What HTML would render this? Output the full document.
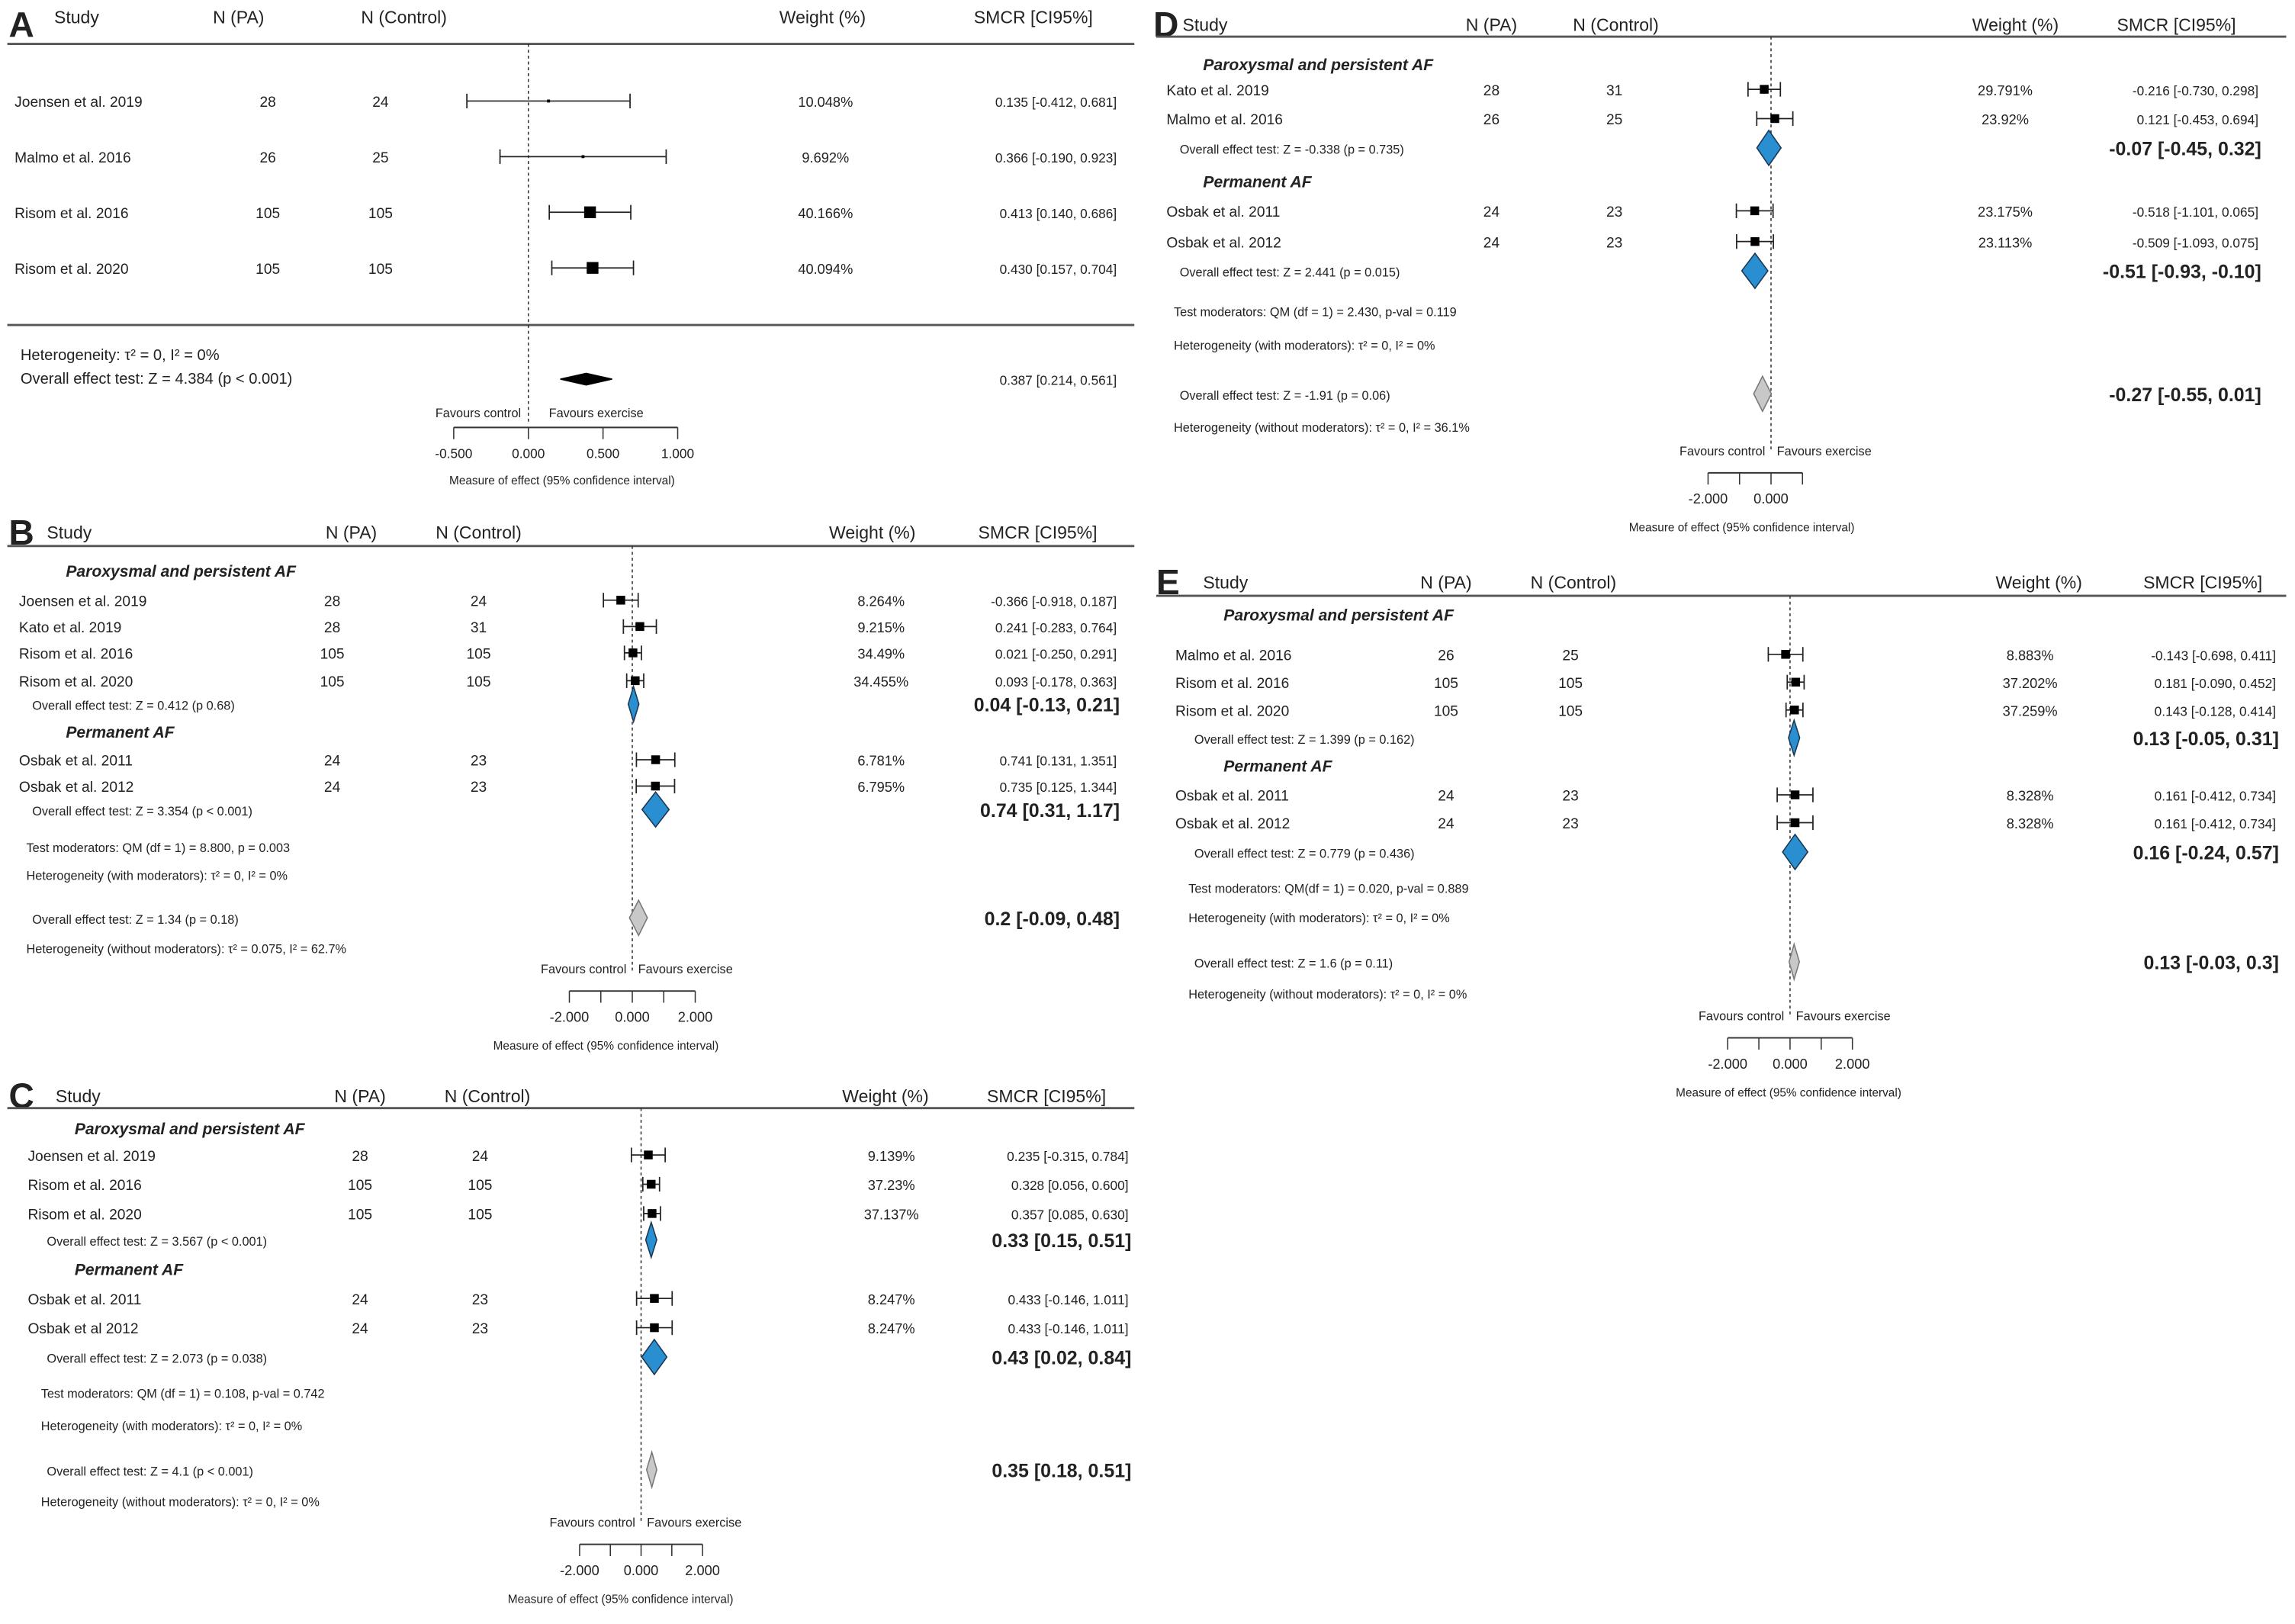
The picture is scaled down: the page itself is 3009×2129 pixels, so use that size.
<!DOCTYPE html>
<html><head><meta charset="utf-8">
<style>
html,body{margin:0;padding:0;background:#fff;}
svg{display:block;}
text{font-family:"Liberation Sans Narrow","Liberation Sans",sans-serif;fill:#222;}
</style></head>
<body>
<svg id="fig" xmlns="http://www.w3.org/2000/svg" width="3009" height="2129" viewBox="0 0 1568 1109.4"></svg>
<script>
// ---------- DATA ----------
// Panel A
const A_names=["Joensen et al. 2019","Malmo et al. 2016","Risom et al. 2016","Risom et al. 2020"];
const A_npa=[28,26,105,105];
const A_nctl=[24,25,105,105];
const A_wt=[10.048,9.692,40.166,40.094];
const A_est=[0.135,0.366,0.413,0.430];
const A_lo=[-0.412,-0.190,0.140,0.157];
const A_hi=[0.681,0.923,0.686,0.704];
const A_all=[0.387,0.214,0.561];
const A_ticks=[-0.5,0,0.5,1.0];
// Panel B
const B_names=["Joensen et al. 2019","Kato et al. 2019","Risom et al. 2016","Risom et al. 2020","Osbak et al. 2011","Osbak et al. 2012"];
const B_npa=[28,28,105,105,24,24];
const B_nctl=[24,31,105,105,23,23];
const B_wt=["8.264%","9.215%","34.49%","34.455%","6.781%","6.795%"];
const B_est=[-0.366,0.241,0.021,0.093,0.741,0.735];
const B_lo=[-0.918,-0.283,-0.250,-0.178,0.131,0.125];
const B_hi=[0.187,0.764,0.291,0.363,1.351,1.344];
const B_subEst=[0.04,0.74], B_subLo=[-0.13,0.31], B_subHi=[0.21,1.17];
const B_all=[0.2,-0.09,0.48];
const B_ticks=[-2,-1,0,1,2];
// Panel C
const C_names=["Joensen et al. 2019","Risom et al. 2016","Risom et al. 2020","Osbak et al. 2011","Osbak et al 2012"];
const C_npa=[28,105,105,24,24];
const C_nctl=[24,105,105,23,23];
const C_wt=["9.139%","37.23%","37.137%","8.247%","8.247%"];
const C_est=[0.235,0.328,0.357,0.433,0.433];
const C_lo=[-0.315,0.056,0.085,-0.146,-0.146];
const C_hi=[0.784,0.600,0.630,1.011,1.011];
const C_subEst=[0.33,0.43], C_subLo=[0.15,0.02], C_subHi=[0.51,0.84];
const C_all=[0.35,0.18,0.51];
const C_ticks=[-2,-1,0,1,2];
// Panel D
const D_names=["Kato et al. 2019","Malmo et al. 2016","Osbak et al. 2011","Osbak et al. 2012"];
const D_npa=[28,26,24,24];
const D_nctl=[31,25,23,23];
const D_wt=["29.791%","23.92%","23.175%","23.113%"];
const D_est=[-0.216,0.121,-0.518,-0.509];
const D_lo=[-0.730,-0.453,-1.101,-1.093];
const D_hi=[0.298,0.694,0.065,0.075];
const D_subEst=[-0.07,-0.51], D_subLo=[-0.45,-0.93], D_subHi=[0.32,-0.10];
const D_all=[-0.27,-0.55,0.01];
const D_ticks=[-2,-1,0,1];
// Panel E
const E_names=["Malmo et al. 2016","Risom et al. 2016","Risom et al. 2020","Osbak et al. 2011","Osbak et al. 2012"];
const E_npa=[26,105,105,24,24];
const E_nctl=[25,105,105,23,23];
const E_wt=["8.883%","37.202%","37.259%","8.328%","8.328%"];
const E_est=[-0.143,0.181,0.143,0.161,0.161];
const E_lo=[-0.698,-0.090,-0.128,-0.412,-0.412];
const E_hi=[0.411,0.452,0.414,0.734,0.734];
const E_subEst=[0.13,0.16], E_subLo=[-0.05,-0.24], E_subHi=[0.31,0.57];
const E_all=[0.13,-0.03,0.3];
const E_ticks=[-2,-1,0,1,2];

// ---------- DRAWING ----------
const NS="http://www.w3.org/2000/svg";
const svg=document.getElementById('fig');
function mk(tag,attrs,name,parent){
  const el=document.createElementNS(NS,tag);
  for(const k in attrs) el.setAttribute(k,attrs[k]);
  
  
  (parent||svg).appendChild(el);
  return el;
}
function txt(x,y,s,size,name,opts,parent){
  opts=opts||{};
  const t=mk('text',{x:x,y:y,'font-size':size,'text-anchor':opts.anchor||'start','font-weight':opts.bold?'bold':'normal','font-style':opts.italic?'italic':'normal'},name,parent);
  t.textContent=s;
  return t;
}
function fmt3(v){return v.toFixed(3);}
function fmt2(v){let s=v.toFixed(2);return s;}

function drawStudy(g,sx,y,est,lo,hi,box,caps,name){
  mk('line',{x1:sx(lo),x2:sx(hi),y1:y,y2:y,stroke:'#222','stroke-width':0.9},name+'-ci',g);
  if(caps){
    mk('line',{x1:sx(lo),x2:sx(lo),y1:y-5,y2:y+5,stroke:'#222','stroke-width':0.9},name+'-cap-lo',g);
    mk('line',{x1:sx(hi),x2:sx(hi),y1:y-5,y2:y+5,stroke:'#222','stroke-width':0.9},name+'-cap-hi',g);
  }
  mk('rect',{x:sx(est)-box/2,y:y-box/2,width:box,height:box,fill:'#000'},name+'-point',g);
}
function diamond(g,sx,y,lo,est,hi,h,fill,stroke,name){
  const p=[[sx(lo),y],[sx(est),y-h],[sx(hi),y],[sx(est),y+h]].map(a=>a.join(',')).join(' ');
  mk('polygon',{points:p,fill:fill,stroke:stroke,'stroke-width':0.8},name,g);
}
function axis(g,sx,ticks,y,fs,name){
  mk('line',{x1:sx(ticks[0]),x2:sx(ticks[ticks.length-1]),y1:y,y2:y,stroke:'#333','stroke-width':1},name+'-line',g);
  ticks.forEach((t,i)=>{
    mk('line',{x1:sx(t),x2:sx(t),y1:y,y2:y+8,stroke:'#333','stroke-width':0.8},name+'-tick',g);
  });
  return y;
}

// ---- Panel A ----
(function(){
  const g=mk('g',{},'panel-a');
  const x0=361, ppu=102;
  const sx=v=>x0+v*ppu;
  txt(6,25,'A',24,'panel-a-label',{bold:true},g);
  txt(37,16,'Study',12,'header-study',{},g);
  txt(163,16,'N (PA)',12,'header-n-pa',{anchor:'middle'},g);
  txt(276,16,'N (Control)',12,'header-n-control',{anchor:'middle'},g);
  txt(562,16,'Weight (%)',12,'header-weight',{anchor:'middle'},g);
  txt(706,16,'SMCR [CI95%]',12,'header-smcr',{anchor:'middle'},g);
  mk('line',{x1:5,x2:775,y1:30,y2:30,stroke:'#555','stroke-width':1.5},'header-rule',g);
  mk('line',{x1:5,x2:775,y1:222,y2:222,stroke:'#555','stroke-width':1.5},'footer-rule',g);
  mk('line',{x1:sx(0),x2:sx(0),y1:30,y2:290,stroke:'#333','stroke-width':0.8,'stroke-dasharray':'2,2'},'null-line',g);
  const ys=[69,107,145,183];
  A_names.forEach((n,i)=>{
    const y=ys[i];
    txt(10,y+4,n,10,'study-name',{},g);
    txt(183,y+4,String(A_npa[i]),10,'n-pa',{anchor:'middle'},g);
    txt(260,y+4,String(A_nctl[i]),10,'n-control',{anchor:'middle'},g);
    txt(564,y+4,A_wt[i].toFixed(3)+'%',9.5,'weight',{anchor:'middle'},g);
    txt(763,y+4,fmt3(A_est[i])+' ['+fmt3(A_lo[i])+', '+fmt3(A_hi[i])+']',9,'smcr-value',{anchor:'end'},g);
    drawStudy(g,sx,y,A_est[i],A_lo[i],A_hi[i],Math.max(2,A_wt[i]*0.2),true,'study-'+i);
  });
  txt(14,246,'Heterogeneity: τ² = 0, I² = 0%',10.5,'heterogeneity',{},g);
  txt(14,262,'Overall effect test: Z = 4.384 (p < 0.001)',10.5,'overall-test',{},g);
  diamond(g,sx,259,A_all[1],A_all[0],A_all[2],4,'#000','#000','overall-diamond');
  txt(763,263,fmt3(A_all[0])+' ['+fmt3(A_all[1])+', '+fmt3(A_all[2])+']',9,'overall-value',{anchor:'end'},g);
  txt(356,285,'Favours control',8.5,'favours-control',{anchor:'end'},g);
  txt(375,285,'Favours exercise',8.5,'favours-exercise',{},g);
  axis(g,sx,A_ticks,292,8,'x-axis');
  A_ticks.forEach(t=>txt(sx(t),313,t.toFixed(3),9,'x-tick-label',{anchor:'middle'},g));
  txt(384,331,'Measure of effect (95% confidence interval)',8,'x-axis-title',{anchor:'middle'},g);
})();

// ---- Subgroup panels ----
function subPanel(cfg){
  const g=mk('g',{},cfg.name);
  const sx=v=>cfg.x0+v*cfg.ppu;
  const L=cfg.L;
  txt(L.letterX,cfg.headY+8,cfg.letter,24,cfg.name+'-label',{bold:true},g);
  txt(L.studyH,cfg.headY+4,'Study',12,'header-study',{},g);
  txt(L.npaH,cfg.headY+4,'N (PA)',12,'header-n-pa',{anchor:'middle'},g);
  txt(L.nctlH,cfg.headY+4,'N (Control)',12,'header-n-control',{anchor:'middle'},g);
  txt(L.wtH,cfg.headY+4,'Weight (%)',12,'header-weight',{anchor:'middle'},g);
  txt(L.smH,cfg.headY+4,'SMCR [CI95%]',12,'header-smcr',{anchor:'middle'},g);
  mk('line',{x1:L.ruleX1,x2:L.ruleX2,y1:cfg.ruleY,y2:cfg.ruleY,stroke:'#555','stroke-width':1.5},'header-rule',g);
  mk('line',{x1:sx(0),x2:sx(0),y1:cfg.ruleY,y2:cfg.axisY-14,stroke:'#333','stroke-width':0.8,'stroke-dasharray':'2,2'},'null-line',g);
  const d=cfg.d;
  d.names.forEach((n,i)=>{
    const y=cfg.rowY[i];
    txt(L.name,y+4,n,10,'study-name',{},g);
    txt(L.npa,y+4,String(d.npa[i]),10,'n-pa',{anchor:'middle'},g);
    txt(L.nctl,y+4,String(d.nctl[i]),10,'n-control',{anchor:'middle'},g);
    txt(L.wt,y+4,d.wt[i],9.5,'weight',{anchor:'middle'},g);
    txt(L.smEnd,y+4,fmt3(d.est[i])+' ['+fmt3(d.lo[i])+', '+fmt3(d.hi[i])+']',9,'smcr-value',{anchor:'end'},g);
    drawStudy(g,sx,y,d.est[i],d.lo[i],d.hi[i],6,true,'study-'+i);
  });
  const titles=['Paroxysmal and persistent AF','Permanent AF'];
  for(let k=0;k<2;k++){
    txt(L.title,cfg.titleY[k]+4,titles[k],11,'subgroup-title',{bold:true,italic:true},g);
    const y=cfg.subY[k];
    txt(L.test,y+4,cfg.subTests[k],8.5,'subgroup-test',{},g);
    diamond(g,sx,y,d.subLo[k],d.subEst[k],d.subHi[k],12,'#2a8fd0','#1a3550','subgroup-diamond');
    txt(L.smEnd+2,y+5,fmt2(d.subEst[k])+' ['+fmt2(d.subLo[k])+', '+fmt2(d.subHi[k])+']',13,'subgroup-value',{anchor:'end',bold:true},g);
  }
  txt(L.test-4,cfg.modY[0]+4,cfg.modText,8.5,'test-moderators',{},g);
  txt(L.test-4,cfg.modY[1]+4,cfg.hetWith,8.5,'heterogeneity-with-moderators',{},g);
  txt(L.test,cfg.allY+4,cfg.allTest,8.5,'overall-test',{},g);
  diamond(g,sx,cfg.allY,d.all[1],d.all[0],d.all[2],12,'#c8c8c8','#777','overall-diamond');
  txt(L.smEnd+2,cfg.allY+5,cfg.allText(d.all),13,'overall-value',{anchor:'end',bold:true},g);
  txt(L.test-4,cfg.hetY+4,cfg.hetWithout,8.5,'heterogeneity-without-moderators',{},g);
  txt(sx(0)-4,cfg.favY+4,'Favours control',8.5,'favours-control',{anchor:'end'},g);
  txt(sx(0)+4,cfg.favY+4,'Favours exercise',8.5,'favours-exercise',{},g);
  axis(g,sx,d.ticks,cfg.axisY,8,'x-axis');
  d.ticks.forEach(t=>{ if(t%2===0) txt(sx(t),cfg.axisY+21,t.toFixed(3),9.5,'x-tick-label',{anchor:'middle'},g); });
  txt(cfg.measX,cfg.axisY+40,'Measure of effect (95% confidence interval)',8,'x-axis-title',{anchor:'middle'},g);
}
const big2=a=>a[0]+' ['+a[1].toFixed(2)+', '+a[2].toFixed(2)+']';

subPanel({name:'panel-b',letter:'B',x0:432,ppu:21.5,headY:364,ruleY:373,
  L:{letterX:6,studyH:32,npaH:240,nctlH:327,wtH:596,smH:709,ruleX1:5,ruleX2:775,name:13,npa:227,nctl:327,wt:602,smEnd:763,title:45,test:22},
  d:{names:B_names,npa:B_npa,nctl:B_nctl,wt:B_wt,est:B_est,lo:B_lo,hi:B_hi,subEst:B_subEst,subLo:B_subLo,subHi:B_subHi,all:B_all,ticks:B_ticks},
  rowY:[410,428,446,465,519,537],titleY:[390,500],subY:[481,553],
  subTests:['Overall effect test: Z = 0.412 (p 0.68)','Overall effect test: Z = 3.354 (p < 0.001)'],
  modY:[578,597],modText:'Test moderators: QM (df = 1) = 8.800, p = 0.003',hetWith:'Heterogeneity (with moderators): τ² = 0, I² = 0%',
  allY:627,allTest:'Overall effect test: Z = 1.34 (p = 0.18)',allText:a=>a[0]+' ['+a[1].toFixed(2)+', '+a[2].toFixed(2)+']',
  hetY:647,hetWithout:'Heterogeneity (without moderators): τ² = 0.075, I² = 62.7%',favY:661,axisY:677,measX:414});

subPanel({name:'panel-c',letter:'C',x0:438,ppu:21,headY:749,ruleY:757,
  L:{letterX:6,studyH:38,npaH:246,nctlH:333,wtH:605,smH:715,ruleX1:5,ruleX2:775,name:19,npa:246,nctl:328,wt:609,smEnd:771,title:51,test:32},
  d:{names:C_names,npa:C_npa,nctl:C_nctl,wt:C_wt,est:C_est,lo:C_lo,hi:C_hi,subEst:C_subEst,subLo:C_subLo,subHi:C_subHi,all:C_all,ticks:C_ticks},
  rowY:[789,809,829,887,907],titleY:[771,867],subY:[847,927],
  subTests:['Overall effect test: Z = 3.567 (p < 0.001)','Overall effect test: Z = 2.073 (p = 0.038)'],
  modY:[951,973],modText:'Test moderators: QM (df = 1) = 0.108, p-val = 0.742',hetWith:'Heterogeneity (with moderators): τ² = 0, I² = 0%',
  allY:1004,allTest:'Overall effect test: Z = 4.1 (p < 0.001)',allText:big2,
  hetY:1025,hetWithout:'Heterogeneity (without moderators): τ² = 0, I² = 0%',favY:1039,axisY:1055,measX:424});

subPanel({name:'panel-d',letter:'D',x0:1210,ppu:21.5,headY:17,ruleY:25,
  L:{letterX:788,studyH:808,npaH:1019,nctlH:1104,wtH:1377,smH:1487,ruleX1:790,ruleX2:1562,name:797,npa:1019,nctl:1103,wt:1370,smEnd:1543,title:822,test:806},
  d:{names:D_names,npa:D_npa,nctl:D_nctl,wt:D_wt,est:D_est,lo:D_lo,hi:D_hi,subEst:D_subEst,subLo:D_subLo,subHi:D_subHi,all:D_all,ticks:D_ticks},
  rowY:[61,81,144,165],titleY:[44,124],subY:[101,185],
  subTests:['Overall effect test: Z = -0.338 (p = 0.735)','Overall effect test: Z = 2.441 (p = 0.015)'],
  modY:[212,235],modText:'Test moderators: QM (df = 1) = 2.430, p-val = 0.119',hetWith:'Heterogeneity (with moderators): τ² = 0, I² = 0%',
  allY:269,allTest:'Overall effect test: Z = -1.91 (p = 0.06)',allText:big2,
  hetY:291,hetWithout:'Heterogeneity (without moderators): τ² = 0, I² = 36.1%',favY:307,axisY:323,measX:1190});

subPanel({name:'panel-e',letter:'E',x0:1223,ppu:21.3,headY:398,ruleY:407,
  L:{letterX:790,studyH:822,npaH:988,nctlH:1075,wtH:1393,smH:1505,ruleX1:790,ruleX2:1562,name:803,npa:988,nctl:1073,wt:1387,smEnd:1555,title:836,test:816},
  d:{names:E_names,npa:E_npa,nctl:E_nctl,wt:E_wt,est:E_est,lo:E_lo,hi:E_hi,subEst:E_subEst,subLo:E_subLo,subHi:E_subHi,all:E_all,ticks:E_ticks},
  rowY:[447,466,485,543,562],titleY:[420,523],subY:[504,582],
  subTests:['Overall effect test: Z = 1.399 (p = 0.162)','Overall effect test: Z = 0.779 (p = 0.436)'],
  modY:[606,626],modText:'Test moderators: QM(df = 1) = 0.020, p-val = 0.889',hetWith:'Heterogeneity (with moderators): τ² = 0, I² = 0%',
  allY:657,allTest:'Overall effect test: Z = 1.6 (p = 0.11)',allText:a=>a[0]+' ['+a[1]+', '+a[2]+']',
  hetY:678,hetWithout:'Heterogeneity (without moderators): τ² = 0, I² = 0%',favY:693,axisY:709,measX:1222});
</script>
</body></html>
